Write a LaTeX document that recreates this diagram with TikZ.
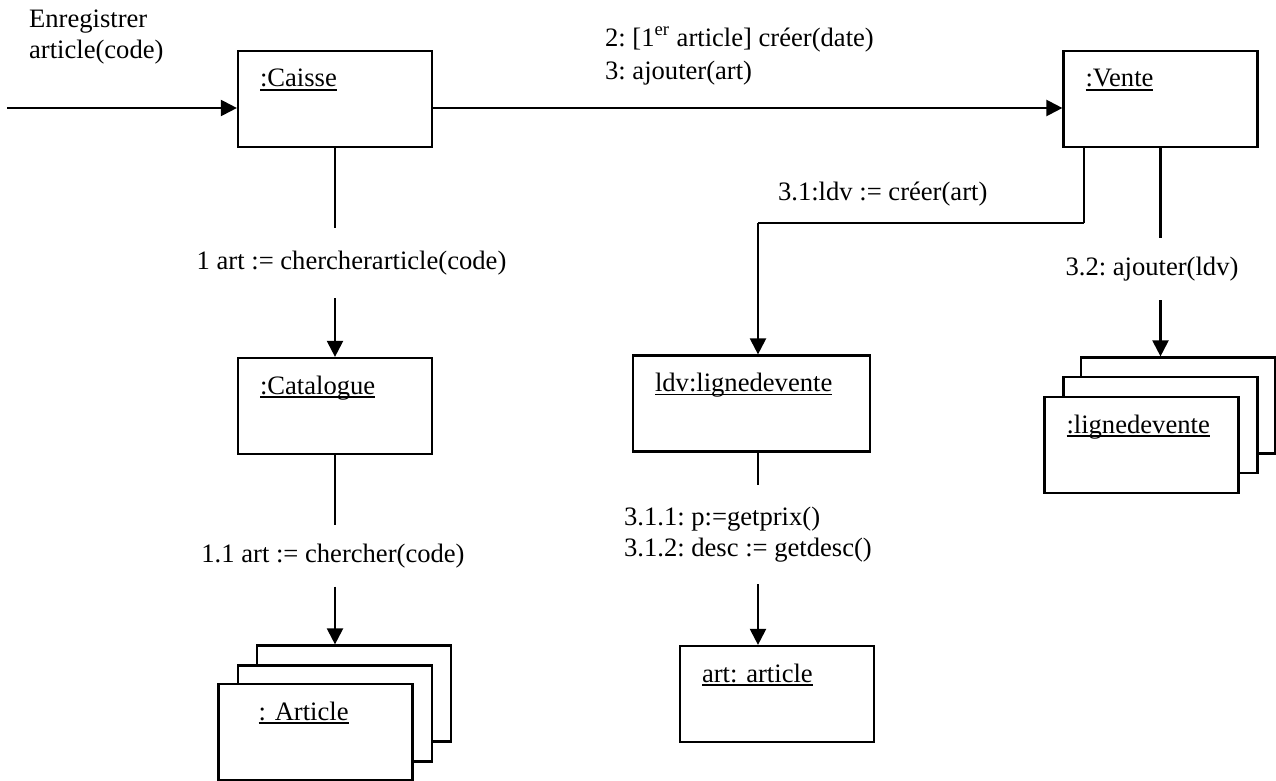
\documentclass[tikz,border=0pt]{standalone}
\usepackage{fontspec}
\setmainfont{Liberation Serif}
\usetikzlibrary{arrows.meta}
\frenchspacing

\newcommand{\objname}[1]{\setbox0\hbox{#1}\rlap{\rule[-1.8pt]{\wd0}{0.8pt}}\box0}

\begin{document}
\begin{tikzpicture}[x=0.5pt,y=-0.5pt,line width=1.1pt,
>={Triangle[length=8pt,width=8pt]},
every node/.style={font=\fontsize{13.3}{15.5}\selectfont},
objbox/.style={draw,rectangle,fill=white,align=left,inner xsep=11pt,inner ysep=0pt,text height=18pt,text depth=30pt,text width=75pt},
msglabel/.style={inner xsep=0pt,inner ysep=10pt,align=left}]
\useasboundingbox (0,0) rectangle (1276,781);

\node[objbox] (caisse) at (335,99) {\objname{:Caisse}};
\node[objbox] (vente) at (1160.5,99) {\objname{:Vente}};
\node[objbox] (catalogue) at (335,406) {\objname{:Catalogue}};
\node[objbox,text width=96.5pt] (ldv) at (751.5,403.5) {\objname{ldv:lignedevente}};
\node[objbox] (art) at (777,694) {\objname{art: article}};
% multi-objects
\node[objbox] (article3) at (354,693.5) {};
\node[objbox] (article2) at (335,713.5) {};
\node[objbox] (article1) at (315.5,732) {\hspace*{9pt}\objname{: Article}};
\node[objbox] (ligne3) at (1178,405.5) {};
\node[objbox] (ligne2) at (1160.5,425) {};
\node[objbox] (ligne1) at (1141.5,445) {\objname{:lignedevente}};

% messages
\node[anchor=north west,inner sep=0pt,align=left] (enreg) at (28,9) {Enregistrer\\article(code)};
\node[anchor=north west,inner sep=0pt,align=left] (m23) at (604,26) {2: [1\textsuperscript{er} article] créer(date)\\[1pt]3: ajouter(art)};
\node[anchor=west,inner sep=0pt] (m31) at (777,194) {3.1:ldv := créer(art)};
\node[msglabel,inner ysep=11pt] (l1) at (351.5,263) {1 art := chercherarticle(code)};
\node[msglabel,inner ysep=8.75pt] (l11) at (333,556) {1.1 art := chercher(code)};
\node[msglabel,inner ysep=9pt] (l32) at (1152,269) {3.2: ajouter(ldv)};
\node[msglabel,inner ysep=10.5pt,anchor=west] (l311) at (623,534.5) {3.1.1: p:=getprix()\\3.1.2: desc := getdesc()};

\coordinate (entry) at (7,108);
\coordinate (bend) at (1084,223);
\coordinate (ldvin) at (758,223);

\draw[->] (entry) -- (entry -| caisse.west);
\draw[->] (entry -| caisse.east) -- (entry -| vente.west);
\draw (caisse) -- (caisse |- l1.north);
\draw[->] (caisse |- l1.south) -- (catalogue);
\draw (catalogue) -- (catalogue |- l11.north);
\draw[->] (catalogue |- l11.south) -- (catalogue |- article3.north);
\draw (vente.south -| bend) -- (bend);
\draw[line width=0.6pt] (bend) -- (ldvin);
\draw[->] (ldvin) -- (ldvin |- ldv.north);
\draw (ldvin |- ldv.south) -- (ldvin |- l311.north);
\draw[->] (ldvin |- l311.south) -- (ldvin |- art.north);
\draw (vente) -- (vente |- l32.north);
\draw[->] (vente |- l32.south) -- (vente |- ligne3.north);
\end{tikzpicture}
\end{document}
